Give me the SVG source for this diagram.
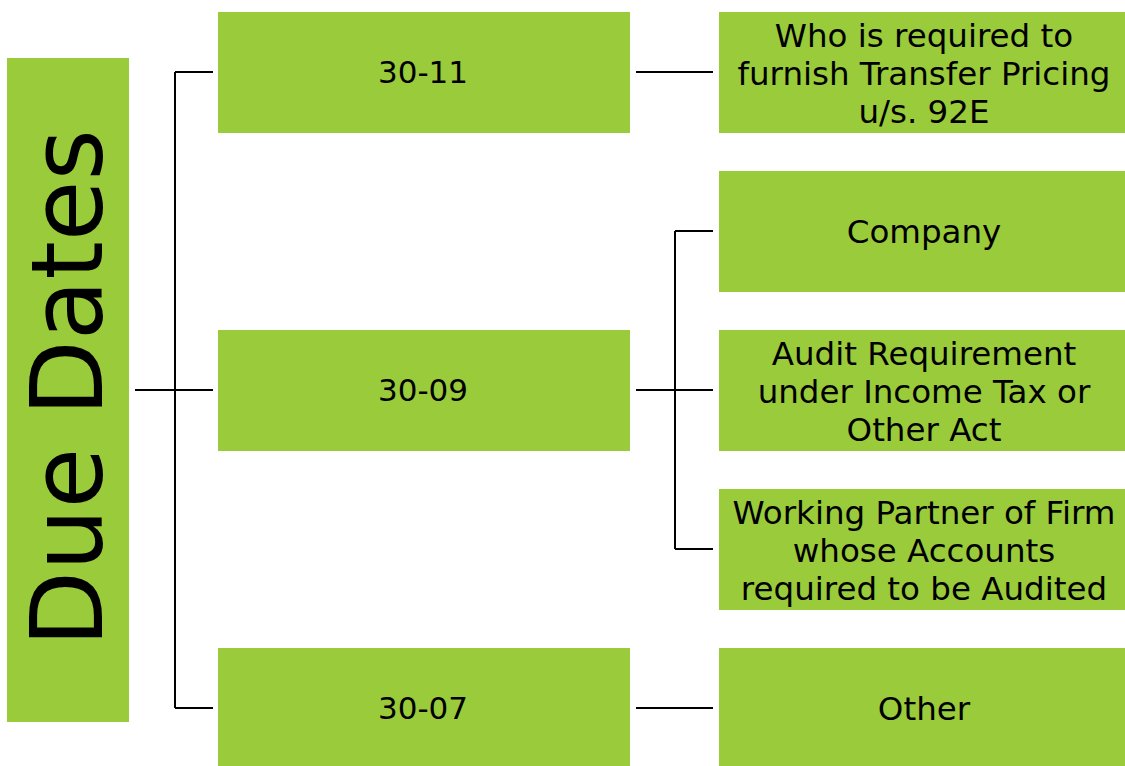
<svg xmlns="http://www.w3.org/2000/svg" width="1125" height="766" viewBox="0 0 1125 766">
<style>
.box{fill:#9acb3a}
.t{font-family:"DejaVu Sans","Liberation Sans",sans-serif;font-size:32.5px;fill:#000;text-anchor:middle}
.m{font-size:31px}
.big{font-size:100px}
.c{stroke:#000;stroke-width:2;fill:none}
</style>
<rect width="1125" height="766" fill="#fff"/>
<g id="connectors">
<path class="c" d="M135 390H175M175 72V708M175 72H213M175 390H213M175 708H213"/>
<path class="c" d="M636 72H713M636 708H713M636 390H675M675 231V549M675 231H713M675 390H713M675 549H713"/>
</g>
<g id="due-dates">
<rect class="box" x="7" y="58" width="122" height="664"/>
<text class="t big" transform="translate(102 388) rotate(-90)" textLength="518" lengthAdjust="spacingAndGlyphs">Due Dates</text>
</g>
<g id="d3011">
<rect class="box" x="218" y="12" width="412" height="121"/>
<text class="t m" x="423" y="83">30-11</text>
</g>
<g id="d3009">
<rect class="box" x="218" y="330" width="412" height="121"/>
<text class="t m" x="423" y="401">30-09</text>
</g>
<g id="d3007">
<rect class="box" x="218" y="648" width="412" height="118"/>
<text class="t m" x="423" y="719">30-07</text>
</g>
<g id="n-transfer">
<rect class="box" x="719" y="12" width="406" height="121"/>
<text class="t" x="924" y="47">Who is required to</text>
<text class="t" x="924" y="85">furnish Transfer Pricing</text>
<text class="t" x="924" y="123">u/s. 92E</text>
</g>
<g id="n-company">
<rect class="box" x="719" y="171" width="406" height="121"/>
<text class="t" x="924" y="243">Company</text>
</g>
<g id="n-audit">
<rect class="box" x="719" y="330" width="406" height="121"/>
<text class="t" x="924" y="365">Audit Requirement</text>
<text class="t" x="924" y="403">under Income Tax or</text>
<text class="t" x="924" y="441">Other Act</text>
</g>
<g id="n-partner">
<rect class="box" x="719" y="489" width="406" height="121"/>
<text class="t" x="924" y="524">Working Partner of Firm</text>
<text class="t" x="924" y="562">whose Accounts</text>
<text class="t" x="924" y="600">required to be Audited</text>
</g>
<g id="n-other">
<rect class="box" x="719" y="648" width="406" height="118"/>
<text class="t" x="924" y="720">Other</text>
</g>
</svg>
